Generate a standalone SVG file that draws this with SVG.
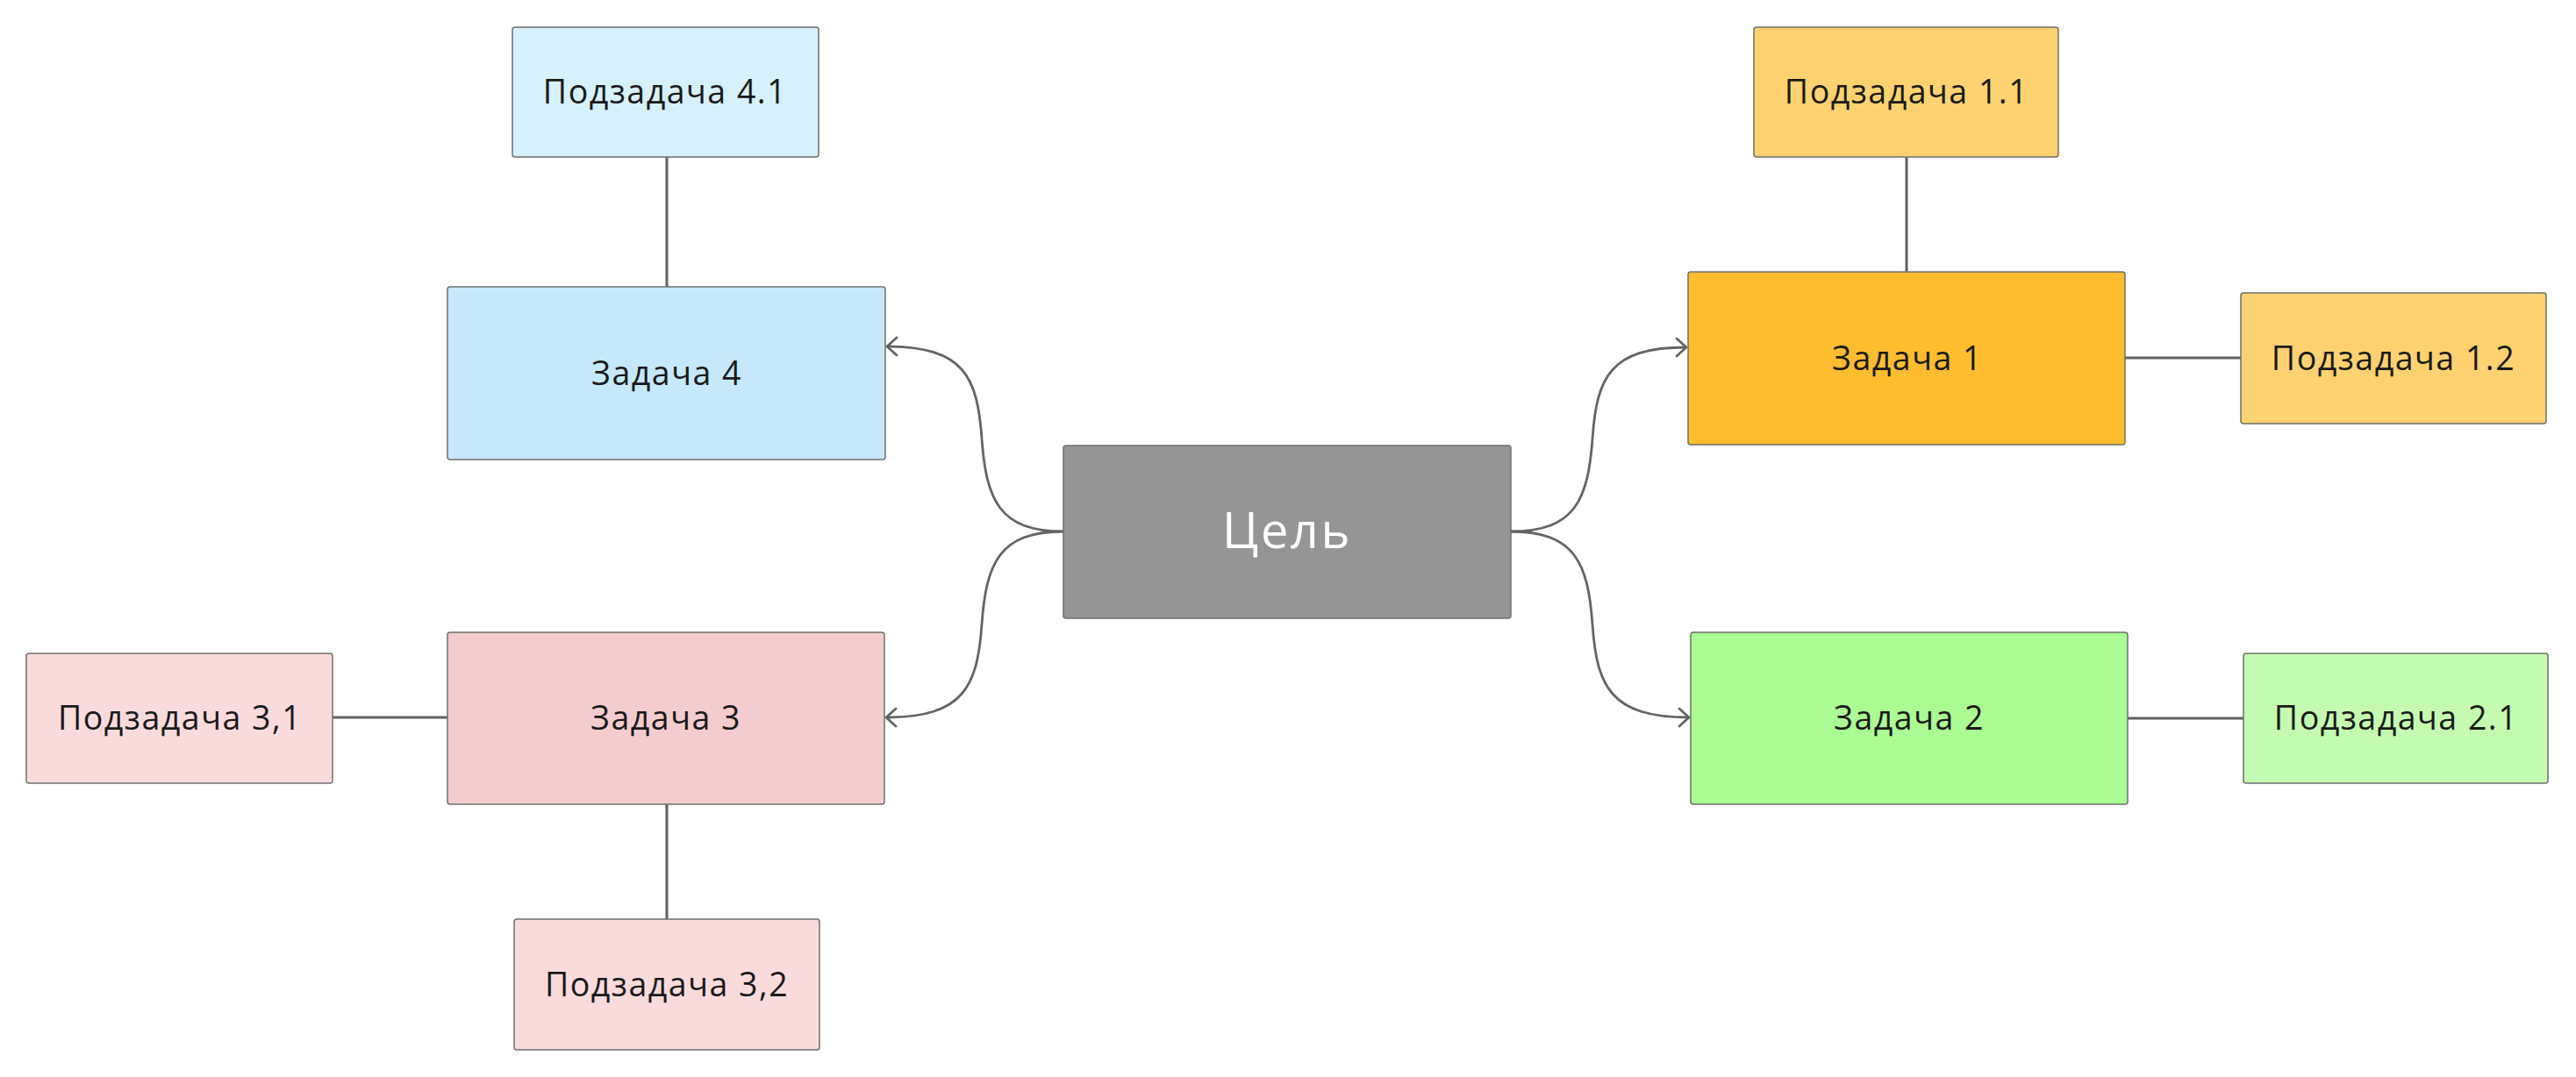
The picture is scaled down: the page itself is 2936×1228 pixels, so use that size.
<svg xmlns="http://www.w3.org/2000/svg" width="2936" height="1228" viewBox="0 0 2936 1228">
<defs>
<style>
.box{stroke:#6f6f6f;stroke-width:1.5}
.t{font-family:"Open Sans","Noto Sans",sans-serif;font-size:37.5px;fill:#1a1a1a;text-anchor:middle;letter-spacing:1.5px}
.g{font-family:"Open Sans","Noto Sans",sans-serif;font-size:56px;fill:#ffffff;text-anchor:middle;letter-spacing:2.5px}
.ln{stroke:#606060;stroke-width:3;fill:none}
.cv{stroke:#646464;stroke-width:2.8;fill:none;marker-end:url(#arr)}
</style>
<marker id="arr" markerUnits="userSpaceOnUse" viewBox="-16 -14 20 28" refX="0" refY="0" markerWidth="20" markerHeight="28" orient="auto">
<path d="M-11,-10 L0,0 L-11,10" fill="none" stroke="#646464" stroke-width="2.8" stroke-linecap="round" stroke-linejoin="round"/>
</marker>
</defs>
<rect width="2936" height="1228" fill="#ffffff"/>
<g id="connectors">
<path class="cv" d="M1722,606 C1795,606 1810,570 1815,500 C1820,430 1835,396 1922,396"/>
<path class="cv" d="M1722,606 C1795,606 1810,642 1815,712 C1820,782 1835,818 1925,818"/>
<path class="cv" d="M1212,606 C1139,606 1124,570 1119,500 C1114,430 1099,395 1011,395"/>
<path class="cv" d="M1212,606 C1139,606 1124,642 1119,712 C1114,782 1099,818 1010,818"/>
<line class="ln" x1="760" y1="179" x2="760" y2="327"/>
<line class="ln" x1="2173" y1="179" x2="2173" y2="310"/>
<line class="ln" x1="2422" y1="408" x2="2554" y2="408"/>
<line class="ln" x1="2425" y1="819" x2="2557" y2="819"/>
<line class="ln" x1="379" y1="818" x2="510" y2="818"/>
<line class="ln" x1="760" y1="917" x2="760" y2="1048"/>
</g>
<g id="goal">
<rect class="box" x="1212" y="508" width="510" height="197" rx="3" fill="#959595"/>
<text class="g" x="1467" y="625">Цель</text>
</g>
<g id="task1">
<rect class="box" x="1924" y="310" width="498" height="197" rx="3" fill="#fdbd2f"/>
<text class="t" x="2174" y="422">Задача 1</text>
</g>
<g id="sub11">
<rect class="box" x="1999" y="31" width="347" height="148" rx="3" fill="#fed270"/>
<text class="t" x="2173" y="118">Подзадача 1.1</text>
</g>
<g id="sub12">
<rect class="box" x="2554" y="334" width="348" height="149" rx="3" fill="#fed270"/>
<text class="t" x="2728" y="422">Подзадача 1.2</text>
</g>
<g id="task2">
<rect class="box" x="1927" y="721" width="498" height="196" rx="3" fill="#abfc93"/>
<text class="t" x="2176" y="832">Задача 2</text>
</g>
<g id="sub21">
<rect class="box" x="2557" y="745" width="347" height="148" rx="3" fill="#c5fbb1"/>
<text class="t" x="2731" y="832">Подзадача 2.1</text>
</g>
<g id="task3">
<rect class="box" x="510" y="721" width="498" height="196" rx="3" fill="#f4cccd"/>
<text class="t" x="759" y="832">Задача 3</text>
</g>
<g id="sub31">
<rect class="box" x="30" y="745" width="349" height="148" rx="3" fill="#fadbdc"/>
<text class="t" x="205" y="832">Подзадача 3,1</text>
</g>
<g id="sub32">
<rect class="box" x="586" y="1048" width="348" height="149" rx="3" fill="#fadbdc"/>
<text class="t" x="760" y="1136">Подзадача 3,2</text>
</g>
<g id="task4">
<rect class="box" x="510" y="327" width="499" height="197" rx="3" fill="#c5e8fb"/>
<text class="t" x="760" y="439">Задача 4</text>
</g>
<g id="sub41">
<rect class="box" x="584" y="31" width="349" height="148" rx="3" fill="#d6f0fc"/>
<text class="t" x="758" y="118">Подзадача 4.1</text>
</g>
</svg>
